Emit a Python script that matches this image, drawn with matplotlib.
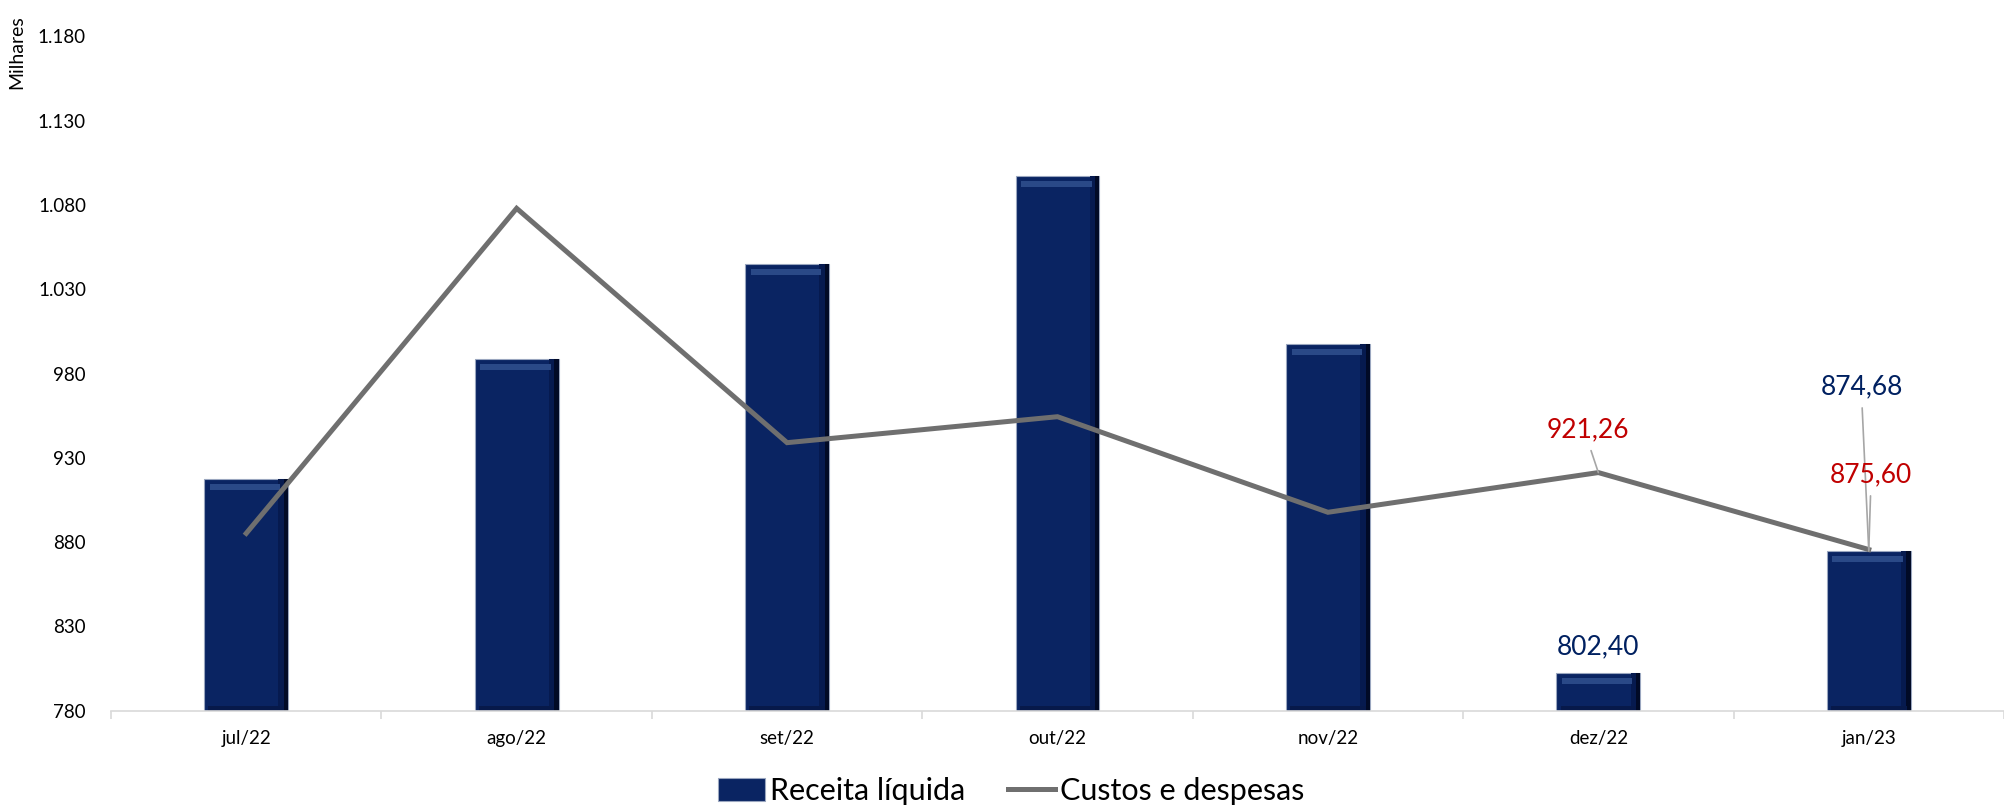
import matplotlib
matplotlib.use("Agg")
import matplotlib.pyplot as plt
import numpy as np
from matplotlib.patches import Patch
from matplotlib.lines import Line2D

plt.rcParams['font.family'] = ['Lato', 'DejaVu Sans']

categories = ["jul/22", "ago/22", "set/22", "out/22", "nov/22", "dez/22", "jan/23"]
receita = [917.4, 988.6, 1044.8, 1097.3, 997.5, 802.40, 874.68]
custos = [885.2, 1078.0, 939.0, 954.4, 897.7, 921.26, 875.60]
yticks = [780, 830, 880, 930, 980, 1030, 1080, 1130, 1180]

BAR = '#0a2462'
LINE = '#6f6f6f'
BLUE = '#002060'
RED = '#C00000'

fig = plt.figure(figsize=(20.04, 8.06), dpi=100)
ax = fig.add_axes([111 / 2004, 1 - 710.7 / 806, 1 - 111 / 2004, (710.7 - 36.4) / 806])

x = np.arange(len(categories))
base = yticks[0]
w = 0.31
vals = np.array(receita)
heights = vals - base

# main bars
ax.bar(x, heights, bottom=base, width=w, color=BAR, edgecolor='#9aa6bf', linewidth=0.8, zorder=2)
# bevel: darker right edge (two steps)
ax.bar(x + w / 2 - 0.018, heights, bottom=base, width=0.036, color='#061a4f', linewidth=0, zorder=2.1)
ax.bar(x + w / 2 - 0.008, heights, bottom=base, width=0.016, color='#010a26', linewidth=0, zorder=2.15)
# bevel: light top strip
ax.bar(x - 0.004, 3.5, bottom=vals - 6.5, width=w * 0.84, color='#2a4987', linewidth=0, zorder=2.2)
# bevel: subtle bottom strip
ax.bar(x, 3.0, bottom=base, width=w * 0.9, color='#07194a', linewidth=0, zorder=2.2)

ax.plot(x, custos, color=LINE, linewidth=3.6, solid_joinstyle='miter', zorder=3)

ax.set_xlim(-0.5, 6.44)
ax.set_ylim(780, 1180)
ax.set_yticks(yticks)
ax.set_yticklabels([f"{v:,}".replace(',', '.') for v in yticks])
ax.set_xticks(x)
ax.set_xticklabels(categories)
ax.set_xticks(np.arange(-0.5, len(categories) + 0.5, 1.0), minor=True)

for s in ['top', 'right', 'left']:
    ax.spines[s].set_visible(False)
ax.spines['bottom'].set_color('#d9d9d9')
ax.spines['bottom'].set_linewidth(1.2)
ax.tick_params(axis='y', length=0, pad=18, labelsize=13.5, labelcolor='#000000')
ax.tick_params(axis='x', which='major', length=0, pad=14, labelsize=13.5)
ax.tick_params(axis='x', which='minor', length=6, color='#d9d9d9', width=1.2)

fig.text(17 / 2004, 1 - 52 / 806, 'Milhares', rotation=90, ha='center', va='center', fontsize=14)

def fmt(v):
    return f"{v:.2f}".replace('.', ',')

lead = dict(arrowstyle='-', color='#a6a6a6', lw=1.2, shrinkA=4, shrinkB=0, relpos=(0.5, 0))
LFS = 19

ax.annotate(fmt(receita[5]), (x[5], receita[5]), xytext=(0, 26.6), textcoords='offset pixels',
            ha='center', va='center', color=BLUE, fontsize=LFS, zorder=5)
ax.annotate(fmt(receita[6]), (x[6], receita[6]), xytext=(-7, 164), textcoords='offset pixels',
            ha='center', va='center', color=BLUE, fontsize=LFS, arrowprops=lead, zorder=5)
ax.annotate(fmt(custos[5]), (x[5], custos[5]), xytext=(-10, 42.5), textcoords='offset pixels',
            ha='center', va='center', color=RED, fontsize=LFS, arrowprops=lead, zorder=5)
ax.annotate(fmt(custos[6]), (x[6], custos[6]), xytext=(2, 74.5), textcoords='offset pixels',
            ha='center', va='center', color=RED, fontsize=LFS, arrowprops=lead, zorder=5)

handles = [Patch(facecolor=BAR, edgecolor='#9aa6bf', linewidth=0.8),
           Line2D([0], [0], color=LINE, linewidth=3.6)]
fig.legend(handles, ['Receita líquida', 'Custos e despesas'], loc='center',
           bbox_to_anchor=(1011 / 2004, 1 - 791 / 806), ncol=2, frameon=False,
           fontsize=22, handlelength=1.55, handleheight=0.75, handletextpad=0.15,
           columnspacing=1.4, borderpad=0)

fig.savefig('out.png', dpi=100)
